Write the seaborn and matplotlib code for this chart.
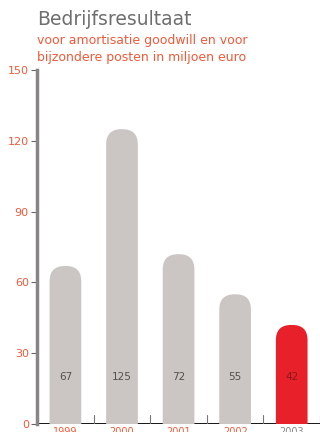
import pandas as pd
import matplotlib
matplotlib.use("Agg")
import matplotlib.pyplot as plt
import seaborn as sns
from matplotlib.patches import FancyBboxPatch

sns.set_style("white")
plt.rcParams['font.family'] = ['DejaVu Sans']

## data ##
years = ["1999", "2000", "2001", "2002", "2003"]
values = [67, 125, 72, 55, 42]
value_labels = ["67", "125", "72", "55", "42"]

grey = "#cbc6c4"
red = "#e8202a"
orange = "#f05a3a"

df = pd.DataFrame({"jaar": years, "resultaat": values})
bar_colors = [grey, grey, grey, grey, red]

fig = plt.figure(figsize=(3.2, 4.32), dpi=100)
ax = fig.add_axes([0.116, 0.0185, 0.884, 0.819])

sns.barplot(data=df, x="jaar", y="resultaat", hue="jaar", palette=bar_colors,
            saturation=1, legend=False, width=0.56, ax=ax, zorder=3)

ax.set_xlim(-0.5, 4.5)
ax.set_ylim(0, 150)

# rounded tops: swap the rectangles for rounded boxes (bottom hidden below 0)
aspect = (150 / 354) / (5 / 283)
for p in list(ax.patches):
    x0, w, h = p.get_x(), p.get_width(), p.get_height()
    fb = FancyBboxPatch((x0, -20), w, h + 20,
                        boxstyle="round,pad=0,rounding_size=0.27",
                        mutation_aspect=aspect,
                        facecolor=p.get_facecolor(), edgecolor="none", zorder=3)
    p.remove()
    ax.add_patch(fb)

# value labels inside bars
for i, lab in enumerate(value_labels):
    c = "#8a1a1a" if i == 4 else "#555050"
    ax.text(i, 20, lab, ha="center", va="center", fontsize=7.5, color=c, zorder=4)

# baseline with small ticks between bars
ax.axhline(0, color="black", linewidth=2, zorder=2)
for xm in [0.5, 1.5, 2.5, 3.5, 4.5]:
    ax.plot([xm, xm], [0, 4], color="#777777", linewidth=0.8, zorder=2)

sns.despine(ax=ax, top=True, right=True, bottom=True, left=False)
ax.spines["left"].set_color("#8a8585")
ax.spines["left"].set_linewidth(2.5)

ax.set_yticks([0, 30, 60, 90, 120, 150])
ax.tick_params(axis="y", colors="#666666", length=4, width=0.8, labelsize=8,
               labelcolor=orange, left=True, pad=2)
ax.tick_params(axis="x", length=0, labelsize=7, pad=2)
for i, t in enumerate(ax.get_xticklabels()):
    t.set_color("#888888" if i == 4 else orange)
ax.set_xlabel("")
ax.set_ylabel("")

fig.text(0.116, 0.942, "Bedrijfsresultaat", fontsize=13.5, color="#6e6e6e")
fig.text(0.116, 0.899, "voor amortisatie goodwill en voor", fontsize=9, color=orange)
fig.text(0.116, 0.858, "bijzondere posten in miljoen euro", fontsize=9, color=orange)

plt.savefig("out.png", dpi=100)
